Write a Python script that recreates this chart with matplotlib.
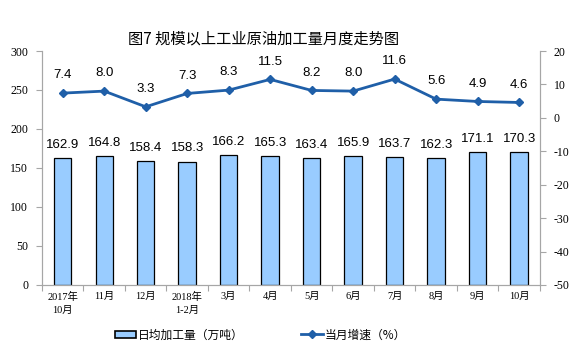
import matplotlib
matplotlib.use("Agg")
import matplotlib.pyplot as plt
import numpy as np
from matplotlib.lines import Line2D
from matplotlib.patches import Patch

plt.rcParams['font.family'] = ['Noto Sans CJK SC', 'DejaVu Sans']
plt.rcParams['axes.unicode_minus'] = False

months = ["2017年\n10月", "11月", "12月", "2018年\n1-2月", "3月", "4月",
          "5月", "6月", "7月", "8月", "9月", "10月"]
daily_output = [162.9, 164.8, 158.4, 158.3, 166.2, 165.3,
                163.4, 165.9, 163.7, 162.3, 171.1, 170.3]
growth = [7.4, 8.0, 3.3, 7.3, 8.3, 11.5, 8.2, 8.0, 11.6, 5.6, 4.9, 4.6]

bar_color = "#99CCFF"
line_color = "#1F5FA8"
spine_color = "#A6A6A6"
serif = ['Liberation Serif', 'Noto Sans CJK SC']

fig = plt.figure(figsize=(5.85, 3.63), dpi=100)
ax = fig.add_axes([0.0718, 0.215, 0.851, 0.6445])
ax2 = ax.twinx()

x = np.arange(len(months))
ax.bar(x, daily_output, width=0.42, color=bar_color, edgecolor="black", linewidth=0.9, zorder=2)
for xi, v in zip(x, daily_output):
    ax.text(xi, v + 9, f"{v:.1f}", ha="center", va="bottom", fontsize=9.5,
            family="Liberation Sans")

ax2.plot(x, growth, color=line_color, linewidth=2, marker="D", markersize=4.5, zorder=3)
for xi, v in zip(x, growth):
    ax2.text(xi, v + 3.5, f"{v:.1f}", ha="center", va="bottom", fontsize=9.5,
             family="Liberation Sans")

ax.set_xlim(-0.5, len(months) - 0.5)
ax.set_ylim(0, 300)
ax.set_yticks(range(0, 301, 50))
ax2.set_ylim(-50, 20)
ax2.set_yticks(range(-50, 21, 10))

ax.set_xticks(np.arange(-0.5, len(months), 1))
ax.set_xticklabels([])
ax.set_xticks(x, minor=True)
ax.set_xticklabels(months, minor=True, fontsize=7.5, family=serif, linespacing=1.6)
ax.tick_params(axis="x", which="major", length=4, color=spine_color, direction="out")
ax.tick_params(axis="x", which="minor", length=0, pad=5)
ax.tick_params(axis="y", length=4, color=spine_color, labelsize=8.5, pad=6)
ax2.tick_params(axis="y", length=4, color=spine_color, labelsize=8.5, pad=6)
for lab in ax.get_yticklabels() + ax2.get_yticklabels():
    lab.set_family(serif)

for a in (ax, ax2):
    a.spines["top"].set_visible(False)
    for s in ("left", "right", "bottom"):
        a.spines[s].set_color(spine_color)

fig.text(0.451, 0.893, "图7 规模以上工业原油加工量月度走势图", ha="center", va="center", fontsize=11)

bar_handle = Patch(facecolor=bar_color, edgecolor="black", linewidth=1.2)
line_handle = Line2D([0], [0], color=line_color, linewidth=2, marker="D", markersize=4)
leg1 = fig.legend([bar_handle], ["日均加工量（万吨）"], loc="center left",
                  bbox_to_anchor=(0.196, 0.077), frameon=False, fontsize=8.5,
                  handlelength=1.8, handleheight=0.55, handletextpad=0.2,
                  borderaxespad=0, borderpad=0)
leg2 = fig.legend([line_handle], ["当月增速（%）"], loc="center left",
                  bbox_to_anchor=(0.515, 0.077), frameon=False, fontsize=8.5,
                  handlelength=1.8, handletextpad=0.2, borderaxespad=0, borderpad=0)

fig.savefig("out.png", dpi=100)
